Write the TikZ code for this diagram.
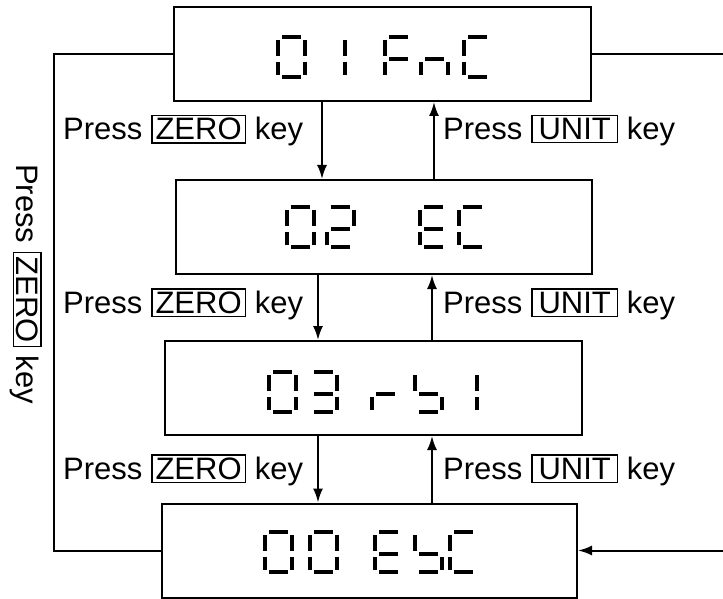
\documentclass[tikz,border=0pt]{standalone}
\usepackage{fontspec}
\setmainfont{Liberation Sans}
\usetikzlibrary{arrows.meta}
\setlength{\fboxsep}{2pt}
\setlength{\fboxrule}{1.5pt}
\newcommand{\keycap}[2][0pt]{\fbox{\hspace{#1}#2\hspace{#1}}}
\tikzset{% styles for the display boxes, the key labels and the lines
   dispbox/.style={draw, line width=2pt, minimum width=#1, minimum height=94pt, inner sep=0pt},
   keytext/.style={font=\fontsize{31}{36}\selectfont, inner sep=0pt},
   link/.style={line width=2pt},
   arr/.style={link, -{Latex[length=14pt,width=10pt]}},
   segline/.style={line width=4pt},
   % a pic for one seven segment character, the lit segments as argument
   pics/lcd/.style={
     code={\foreach \s/\xa/\ya/\xb/\yb in {a/6/2/25/2, b/29/5/29/21, c/29/27/29/40,
                                           d/6/42/25/42, e/2/27/2/40, f/2/5/2/21, g/6/24/25/24} {
              \coordinate (\s0) at (\xa,\ya);
              \coordinate (\s1) at (\xb,\yb);
           }
           \foreach \s in {#1} {
              \draw[segline] (\s0) -- (\s1);
           }
     }
   }
}
\begin{document}
\begin{tikzpicture}[x=1pt, y=-1pt]
   \useasboundingbox (0,0) rectangle (723,599);
   % the four displays
   \node[dispbox=417pt] (fnc) at (382.5,54) {};
   \node[dispbox=416pt] (ec)  at (384,227)  {};
   \node[dispbox=417pt] (rbi) at (373.5,388) {};
   \node[dispbox=415pt] (esc) at (369.5,550.5) {};
   % 01 FnC
   \draw (276,35) pic{lcd={a,b,c,d,e,f}};
   \draw (316,35) pic{lcd={b,c}};
   \draw (383,35) pic{lcd={a,e,f,g}};
   \draw (419,35) pic{lcd={c,e,g}};
   \draw (462,35) pic{lcd={a,d,e,f}};
   % 02 EC
   \draw (285,205) pic{lcd={a,b,c,d,e,f}};
   \draw (325,205) pic{lcd={a,b,d,e,g}};
   \draw (418,205) pic{lcd={a,d,e,f,g}};
   \draw (457,205) pic{lcd={a,d,e,f}};
   % 03 rb1
   \draw (267,370) pic{lcd={a,b,c,d,e,f}};
   \draw (308,370) pic{lcd={a,b,c,d,g}};
   \draw (370,370) pic{lcd={e,g}};
   \draw (413,370) pic{lcd={c,d,f,g}};
   \draw (448,370) pic{lcd={b,c}};
   % 00 EbC
   \draw (263,530) pic{lcd={a,b,c,d,e,f}};
   \draw (308,530) pic{lcd={a,b,c,d,e,f}};
   \draw (373,530) pic{lcd={a,d,e,f,g}};
   \draw (413,530) pic{lcd={c,d,f,g}};
   \draw (448,530) pic{lcd={a,d,e,f}};
   % x of the up and down arrows, and the outer line
   \coordinate (dn1) at (322,0);
   \coordinate (dn2) at (318,0);
   \coordinate (up1) at (434,0);
   \coordinate (up2) at (432,0);
   \coordinate (loop) at (54,300);
   \coordinate (edge) at (723,0);
   \draw[arr] (fnc.south -| dn1) -- (ec.north -| dn1);
   \draw[arr] (ec.south -| dn2) -- (rbi.north -| dn2);
   \draw[arr] (rbi.south -| dn2) -- (esc.north -| dn2);
   \draw[arr] (ec.north -| up1) -- (fnc.south -| up1);
   \draw[arr] (rbi.north -| up2) -- (ec.south -| up2);
   \draw[arr] (esc.north -| up2) -- (rbi.south -| up2);
   \draw[link] (fnc.west) -| (loop) |- (esc.west);
   \draw[link] (fnc.east) -- (fnc.east -| edge);
   \draw[arr] (esc.east -| edge) -- (esc.east);
   % key labels
   \foreach \y [count=\i] in {130.5,304,470} {
      \node[keytext, anchor=west] (zero\i) at (63,\y) {Press \keycap[1pt]{ZERO} key};
      \node[keytext, anchor=west] (unit\i) at (443,\y) {Press \keycap[4pt]{UNIT} key};
   }
   \node[keytext, rotate=-90] (zeroall) at (26,284) {Press \keycap[1pt]{ZERO} key};
\end{tikzpicture}
\end{document}
